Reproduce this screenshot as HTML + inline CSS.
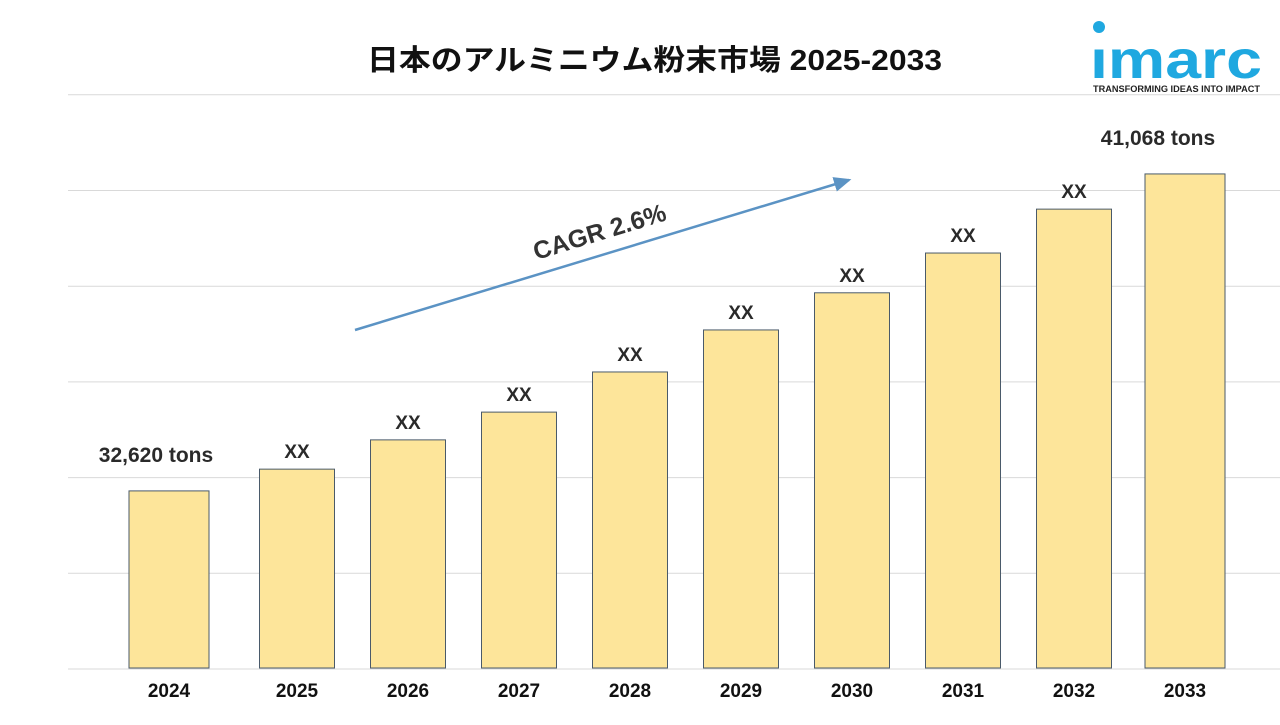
<!DOCTYPE html>
<html><head><meta charset="utf-8"><style>
body{margin:0;width:1280px;height:720px;background:#fff;overflow:hidden;font-family:"Liberation Sans","Noto Sans CJK JP",sans-serif}
</style></head><body>
<svg id="chart" width="1280" height="720" xmlns="http://www.w3.org/2000/svg">
<text x="367" y="70" textLength="575" lengthAdjust="spacingAndGlyphs" font-size="29" font-weight="bold" font-family="Liberation Sans, Noto Sans CJK JP, sans-serif" fill="#111">日本のアルミニウム粉末市場 2025-2033</text>
<g>
<circle cx="1099" cy="27" r="6" fill="#1fa8e0"/>
<text x="1090" y="78" textLength="172" lengthAdjust="spacingAndGlyphs" font-size="54" font-weight="bold" fill="#1fa8e0" font-family="Liberation Sans, sans-serif">ımarc</text>
<text x="1093" y="92" textLength="167" lengthAdjust="spacingAndGlyphs" font-size="9.5" font-weight="bold" fill="#222" font-family="Liberation Sans, sans-serif">TRANSFORMING IDEAS INTO IMPACT</text>
</g>
<g id="grid"></g>
<g id="bars"></g>
<g>
<defs><marker id="ah" markerWidth="8" markerHeight="8" refX="6" refY="4" orient="auto"><path d="M0,1 L7,4 L0,7 Z" fill="#5b93c4"/></marker></defs>
<line x1="355" y1="330" x2="849" y2="180" stroke="#5b93c4" stroke-width="2.5" marker-end="url(#ah)"/>
<text x="602" y="240" text-anchor="middle" font-size="25" font-weight="bold" fill="#333" transform="rotate(-17 602 240)">CAGR 2.6%</text>
</g>
</svg>
<script>
const years=["2024","2025","2026","2027","2028","2029","2030","2031","2032","2033"];
const values=[32620,33200,33980,34720,35790,36910,37900,38960,40130,41068];
const labels=["32,620 tons","XX","XX","XX","XX","XX","XX","XX","XX","41,068 tons"];
const gridTicks=[0,1,2,3,4,5,6];
const NS="http://www.w3.org/2000/svg";
const base=668, k=0.03752, v0=27900;
function y(v){return base-(v-v0)*k;}
function x(i){return i===0?169:297+(i-1)*111;}
const grid=document.getElementById('grid');
gridTicks.forEach(t=>{
 const l=document.createElementNS(NS,'line');
 const gy=669-t*95.7;
 l.setAttribute('x1',68);l.setAttribute('x2',1280);l.setAttribute('y1',gy);l.setAttribute('y2',gy);
 l.setAttribute('stroke','#d9d9d9');l.setAttribute('stroke-width',1);
 
 
 grid.appendChild(l);
});
const g=document.getElementById('bars');
years.forEach((yr,i)=>{
 const cx=x(i), w=(i===0||i===9)?80:75, top=y(values[i]);
 const r=document.createElementNS(NS,'rect');
 r.setAttribute('x',cx-w/2);r.setAttribute('y',top);r.setAttribute('width',w);r.setAttribute('height',base-top);
 r.setAttribute('fill','#fde59a');r.setAttribute('stroke','#4a5a6a');r.setAttribute('stroke-width',1);
 
 
 g.appendChild(r);
 const long=labels[i].length>2;
 const t=document.createElementNS(NS,'text');
 t.setAttribute('x',i===0?156:(i===9?1158:cx));t.setAttribute('y',top-(long?29:11));
 t.setAttribute('text-anchor','middle');t.setAttribute('font-size',long?21:19);
 t.setAttribute('font-weight','bold');t.setAttribute('fill','#2a2a2a');
 t.textContent=labels[i];
 
 
 g.appendChild(t);
 const a=document.createElementNS(NS,'text');
 a.setAttribute('x',cx);a.setAttribute('y',697);a.setAttribute('text-anchor','middle');
 a.setAttribute('font-size',19);a.setAttribute('font-weight','bold');a.setAttribute('fill','#111');
 a.textContent=yr;
 
 
 g.appendChild(a);
});
</script>
</body></html>
